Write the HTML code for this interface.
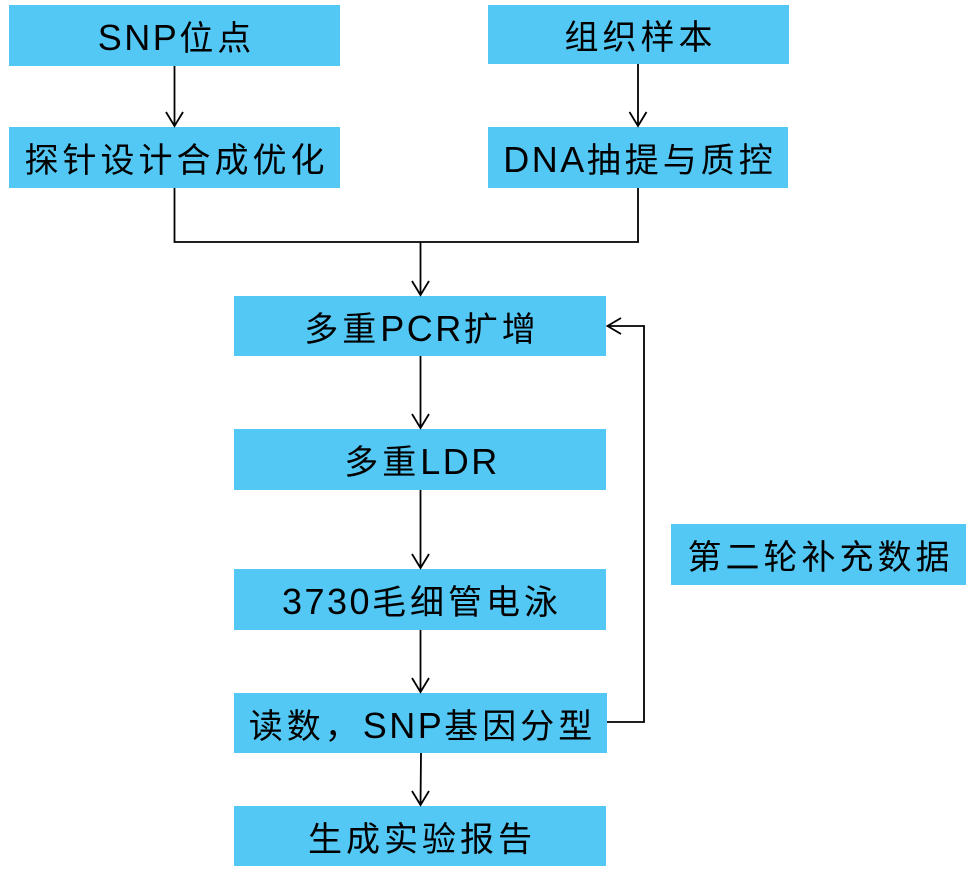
<!DOCTYPE html>
<html>
<head>
<meta charset="utf-8">
<style>
html,body{margin:0;padding:0;background:#fff;}
body{width:974px;height:882px;position:relative;overflow:hidden;}
.b{position:absolute;background:#53c8f4;display:flex;align-items:center;justify-content:center;
font-family:"Liberation Sans","Noto Sans CJK SC",sans-serif;font-size:34px;color:#000;letter-spacing:4px;white-space:nowrap;}
.b span{margin-right:-4px;}
.l{font-style:normal;font-size:36px;letter-spacing:2.5px;}
svg{position:absolute;left:0;top:0;}
</style>
</head>
<body>
<div class="b" style="left:9px;top:5px;width:331px;height:61px;"><span><i class="l">SNP</i>位点</span></div>
<div class="b" style="left:488px;top:5px;width:301px;height:59px;"><span>组织样本</span></div>
<div class="b" style="left:9px;top:127px;width:331px;height:61px;"><span>探针设计合成优化</span></div>
<div class="b" style="left:488px;top:127px;width:300px;height:61px;"><span><i class="l">DNA</i>抽提与质控</span></div>
<div class="b" style="left:234px;top:296px;width:372px;height:60px;"><span>多重<i class="l">PCR</i>扩增</span></div>
<div class="b" style="left:234px;top:429px;width:372px;height:61px;"><span>多重<i class="l">LDR</i></span></div>
<div class="b" style="left:234px;top:569px;width:372px;height:61px;"><span><i class="l">3730</i>毛细管电泳</span></div>
<div class="b" style="left:234px;top:693px;width:373px;height:60px;"><span>读数，<i class="l">SNP</i>基因分型</span></div>
<div class="b" style="left:234px;top:806px;width:372px;height:60px;"><span>生成实验报告</span></div>
<div class="b" style="left:671px;top:524px;width:295px;height:61px;"><span>第二轮补充数据</span></div>

<svg width="974" height="882" viewBox="0 0 974 882">
<g fill="none" stroke="#000" stroke-width="1.8">
<line x1="174.5" y1="66" x2="174.5" y2="126"/>
<polyline points="166,112 174.5,126 183,112"/>
<line x1="638" y1="64" x2="638" y2="126"/>
<polyline points="629.5,112 638,126 646.5,112"/>
<polyline points="174.5,188 174.5,242 638,242 638,188"/>
<line x1="420.5" y1="242" x2="420.5" y2="295"/>
<polyline points="412,281 420.5,295 429,281"/>
<line x1="420.5" y1="356" x2="420.5" y2="428"/>
<polyline points="412,414 420.5,428 429,414"/>
<line x1="420.5" y1="490" x2="420.5" y2="568"/>
<polyline points="412,554 420.5,568 429,554"/>
<line x1="420.5" y1="630" x2="420.5" y2="692"/>
<polyline points="412,678 420.5,692 429,678"/>
<line x1="421" y1="753" x2="420.5" y2="805"/>
<polyline points="412,791 420.5,805 429,791"/>
<polyline points="607,722 644,722 644,326 607.5,326"/>
<polyline points="621,318 607.5,326 621,334"/>
</g>
</svg>
</body>
</html>
